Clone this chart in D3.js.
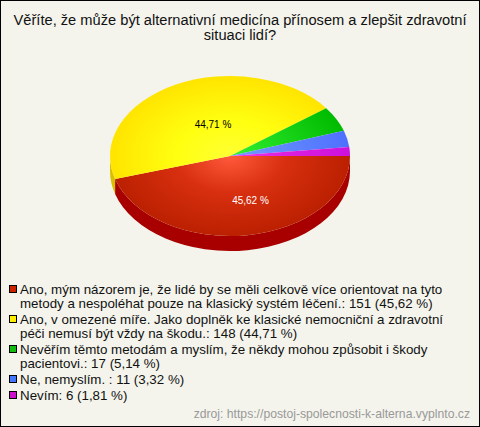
<!DOCTYPE html>
<html><head><meta charset="utf-8">
<script src="https://cdn.jsdelivr.net/npm/d3@7/dist/d3.min.js"></script>
<style>html,body{margin:0;padding:0;background:#f4f4ec}svg{display:block}text{font-family:"Liberation Sans",Arial,sans-serif}</style>
</head><body><svg id="c" width="480" height="427"></svg>
<script>
const titleLines = ["Věříte, že může být alternativní medicína přínosem a zlepšit zdravotní","situaci lidí?"];
const values = [151,148,17,11,6];
const sliceLabels = ["45,62 %","44,71 %",null,null,null];
const colors = ["#cc2200","#ffee00","#11bb11","#4477ff","#cc11cc"];
const light = ["#ff5a3c","#ffff33","#33f033","#7799ff","#ee33ee"];
const mid = ["#d83010","#ffff10","#1cd81c","#6088ff","#dd20dd"];
const dark = ["#bb2000","#ffe400","#00bb00","#4f70ff","#cc11dd"];
const side = ["#a80000","#d8c000","#008800","#2244bb","#880088"];
const legendLines = [
 ["Ano, mým názorem je, že lidé by se měli celkově více orientovat na tyto","metody a nespoléhat pouze na klasický systém léčení.: 151 (45,62 %)"],
 ["Ano, v omezené míře. Jako doplněk ke klasické nemocniční a zdravotní","péči nemusí být vždy na škodu.: 148 (44,71 %)"],
 ["Nevěřím těmto metodám a myslím, že někdy mohou způsobit i škody","pacientovi.: 17 (5,14 %)"],
 ["Ne, nemyslím. : 11 (3,32 %)"],
 ["Nevím: 6 (1,81 %)"]];
const source = "zdroj: https://postoj-spolecnosti-k-alterna.vyplnto.cz";

const svg = d3.select("#c");
svg.append("rect").attr("x",.5).attr("y",.5).attr("width",479).attr("height",426).attr("fill","#f4f4ec").attr("stroke","#000");
svg.append("g").selectAll("text").data(titleLines).join("text")
  .attr("x",240).attr("y",(d,i)=>25+i*15).attr("text-anchor","middle").attr("font-size",14.67).attr("fill","#111").text(d=>d);

const cx=230, cy=156, rx=120, ry=80, depth=15, k=ry/rx;
const pie=d3.pie().sort(null).startAngle(Math.PI/2).endAngle(Math.PI/2+2*Math.PI);
const arcs=pie(values);
const arc=d3.arc().innerRadius(0).outerRadius(rx);
const defs=svg.append("defs");
colors.forEach((c,i)=>{
  const g=defs.append("radialGradient").attr("id","g"+i).attr("gradientUnits","userSpaceOnUse")
    .attr("cx",0).attr("cy",0).attr("r",rx);
  g.append("stop").attr("offset",0).attr("stop-color",light[i]);
  g.append("stop").attr("offset",.45).attr("stop-color",mid[i]);
  g.append("stop").attr("offset",1).attr("stop-color",dark[i]);
});
const root=svg.append("g").attr("transform",`translate(${cx},${cy}) scale(1,${k})`);
root.append("g").selectAll("path").data(arcs).join("path")
  .attr("fill",(d,i)=>side[i])
  .attr("d",d=>{
    const a0=Math.max(d.startAngle-Math.PI/2,0), a1=Math.min(d.endAngle-Math.PI/2,Math.PI);
    if(a1<=a0) return null;
    const p=d3.path(), dz=depth/k;
    p.arc(0,0,rx,a0,a1);
    p.arc(0,dz,rx,a1,a0,true);
    p.closePath();
    return p.toString();
  });
root.append("g").selectAll("path").data(arcs).join("path")
  .attr("fill",(d,i)=>`url(#g${i})`).attr("d",arc);

const labelPos=[[250.5,204],[213,128]];
svg.append("g").selectAll("text").data(sliceLabels.filter(Boolean)).join("text")
  .attr("x",(d,i)=>labelPos[i][0]).attr("y",(d,i)=>labelPos[i][1]).attr("text-anchor","middle")
  .attr("font-size",10).attr("fill",(d,i)=>i==0?"#fff":"#000").text(d=>d);

const lg=svg.append("g");
let y=294;
legendLines.forEach((lines,i)=>{
  lg.append("rect").attr("x",9.5).attr("y",y-8.5).attr("width",7).attr("height",7).attr("fill",colors[i]).attr("stroke","#000");
  lines.forEach((t,j)=>{
    lg.append("text").attr("x",20).attr("y",y+j*14).attr("font-size",13.33).attr("fill","#111").text(t);
  });
  y+=lines.length*14+2;
});
svg.append("text").attr("x",470).attr("y",418).attr("text-anchor","end").attr("font-size",12.2).attr("fill","#999").text(source);
</script></body></html>
